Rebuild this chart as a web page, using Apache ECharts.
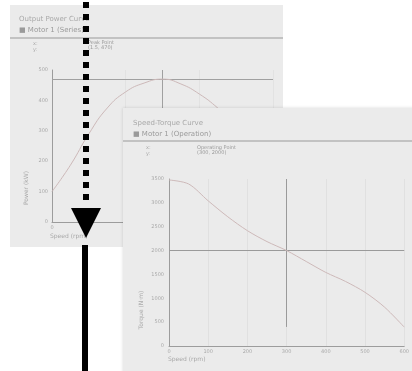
<!DOCTYPE html>
<html>
<head>
<meta charset="utf-8">
<script src="https://cdn.jsdelivr.net/npm/echarts@6/dist/echarts.min.js"></script>
<style>
  html, body { margin: 0; padding: 0; background: #fff; }
  #main { width: 412px; height: 371px; }
</style>
</head>
<body>
<div id="main"></div>
<script>
// panel 1: power curve
const powerX = [0, 0.25, 0.5, 0.75, 1.0, 1.25, 1.5, 1.75, 2.0, 2.25, 2.5, 2.75, 3.0];
const powerY = [100, 187, 290, 375, 428, 457, 470, 454, 421, 375, 319, 253, 178];
const powerPeak = [1.5, 470];

// panel 2: speed-torque curve
const torqueX = [0, 50, 100, 150, 200, 250, 300, 350, 400, 450, 500, 550, 600];
const torqueY = [3480, 3396, 3042, 2708, 2417, 2188, 2000, 1771, 1542, 1354, 1125, 813, 396];
const torquePoint = [300, 2000];

const txt = '#a9a9a9';
const axisCol = '#9c9c9c';
const curveCol = '#cdb9b9';
const font = 'DejaVu Sans';

const myChart = echarts.init(document.getElementById('main'));

myChart.setOption({
  animation: false,
  backgroundColor: '#fff',
  textStyle: { fontFamily: font },
  title: [
    {
      text: 'Output Power Curve',
      subtext: '\u25A0 Motor 1 (Series)',
      left: 14, top: 11, z: 4, itemGap: 4,
      textStyle: { fontSize: 7, color: txt, fontWeight: 'normal' },
      subtextStyle: { fontSize: 7, color: '#9a9a9a' }
    },
    {
      text: 'Speed-Torque Curve',
      subtext: '\u25A0 Motor 1 (Operation)',
      left: 128, top: 115, z: 14, itemGap: 4,
      textStyle: { fontSize: 7, color: txt, fontWeight: 'normal' },
      subtextStyle: { fontSize: 7, color: '#9a9a9a' }
    }
  ],
  graphic: [
    // panel backgrounds
    { type: 'rect', z: 0, shape: { x: 10, y: 5, width: 273, height: 242 }, style: { fill: '#ebebeb' } },
    { type: 'line', z: 1, shape: { x1: 10, y1: 38, x2: 283, y2: 38 }, style: { stroke: '#b4b4b4', lineWidth: 1.5 } },
    { type: 'text', z: 1, left: 33, top: 41, style: { text: 'x:\ny:', fontSize: 5, fill: txt, fontFamily: font, lineHeight: 6 } },
    { type: 'text', z: 1, left: 88, top: 40, style: { text: 'Peak Point\n(1.5, 470)', fontSize: 5, fill: '#999', fontFamily: font, lineHeight: 5 } },
    { type: 'text', z: 1, x: 26, y: 188, rotation: Math.PI / 2, style: { text: 'Power (kW)', fontSize: 6, fill: txt, fontFamily: font, align: 'center', verticalAlign: 'middle' } },
    { type: 'text', z: 1, left: 50, top: 233, style: { text: 'Speed (rpm)', fontSize: 6, fill: txt, fontFamily: font } },

    { type: 'rect', z: 10, shape: { x: 123, y: 108, width: 295, height: 270 }, style: { fill: '#ebebeb', shadowBlur: 3, shadowColor: 'rgba(0,0,0,0.15)' } },
    { type: 'line', z: 11, shape: { x1: 123, y1: 141, x2: 412, y2: 141 }, style: { stroke: '#b4b4b4', lineWidth: 1.5 } },
    { type: 'text', z: 11, left: 146, top: 145, style: { text: 'x:\ny:', fontSize: 5, fill: txt, fontFamily: font, lineHeight: 6 } },
    { type: 'text', z: 11, left: 197, top: 145, style: { text: 'Operating Point\n(300, 2000)', fontSize: 5, fill: '#999', fontFamily: font, lineHeight: 5 } },
    { type: 'text', z: 11, x: 141, y: 310, rotation: Math.PI / 2, style: { text: 'Torque (N\u00b7m)', fontSize: 6, fill: txt, fontFamily: font, align: 'center', verticalAlign: 'middle' } },
    { type: 'text', z: 11, left: 168, top: 356, style: { text: 'Speed (rpm)', fontSize: 6, fill: txt, fontFamily: font } },

    // arrow annotation
    { type: 'line', z: 20, shape: { x1: 86, y1: 2, x2: 86, y2: 206 }, style: { stroke: '#000', lineWidth: 6, lineDash: [6, 6] } },
    { type: 'polygon', z: 20, shape: { points: [[71, 208], [101, 208], [86, 238]] }, style: { fill: '#000' } },
    { type: 'line', z: 20, shape: { x1: 85, y1: 245, x2: 85, y2: 371 }, style: { stroke: '#000', lineWidth: 6 } }
  ],
  grid: [
    { left: 52, top: 70, right: 139, bottom: 149 },
    { left: 169, top: 179, right: 1, bottom: 25 }
  ],
  xAxis: [
    {
      gridIndex: 0, type: 'value', min: 0, max: 3, interval: 1, z: 2,
      axisLine: { lineStyle: { color: axisCol } },
      axisTick: { show: false },
      axisLabel: { fontSize: 5, color: txt, margin: 3 },
      splitLine: { show: true, lineStyle: { color: '#e2e2e2' } }
    },
    {
      gridIndex: 1, type: 'value', min: 0, max: 600, interval: 100, z: 12,
      axisLine: { lineStyle: { color: axisCol } },
      axisTick: { show: false },
      axisLabel: { fontSize: 5, color: txt, margin: 3 },
      splitLine: { show: true, lineStyle: { color: '#e0e0e0' } }
    }
  ],
  yAxis: [
    {
      gridIndex: 0, type: 'value', min: 0, max: 500, interval: 100, z: 2,
      axisLine: { show: true, lineStyle: { color: axisCol } },
      axisTick: { show: false },
      axisLabel: { fontSize: 5, color: txt, margin: 4 },
      splitLine: { show: false }
    },
    {
      gridIndex: 1, type: 'value', min: 0, max: 3500, interval: 500, z: 12,
      axisLine: { show: true, lineStyle: { color: axisCol } },
      axisTick: { show: false },
      axisLabel: { fontSize: 5, color: txt, margin: 5, formatter: v => String(v) },
      splitLine: { show: false }
    }
  ],
  series: [
    {
      type: 'line', xAxisIndex: 0, yAxisIndex: 0, z: 3,
      data: powerX.map((x, i) => [x, powerY[i]]),
      smooth: true, symbol: 'none',
      lineStyle: { color: curveCol, width: 1 },
      markLine: {
        z: 3, silent: true, symbol: 'none', label: { show: false },
        lineStyle: { color: '#a0a0a0', type: 'solid', width: 1 },
        data: [{ yAxis: powerPeak[1] }, { xAxis: powerPeak[0] }]
      }
    },
    {
      type: 'line', xAxisIndex: 1, yAxisIndex: 1, z: 13,
      data: torqueX.map((x, i) => [x, torqueY[i]]),
      smooth: 0.3, symbol: 'none',
      lineStyle: { color: curveCol, width: 1 },
      markLine: {
        z: 13, silent: true, symbol: 'none', label: { show: false },
        lineStyle: { color: '#9a9a9a', type: 'solid', width: 1 },
        data: [
          { yAxis: torquePoint[1] },
          [{ coord: [torquePoint[0], 3500] }, { coord: [torquePoint[0], 400] }]
        ]
      }
    }
  ]
});
</script>
</body>
</html>
